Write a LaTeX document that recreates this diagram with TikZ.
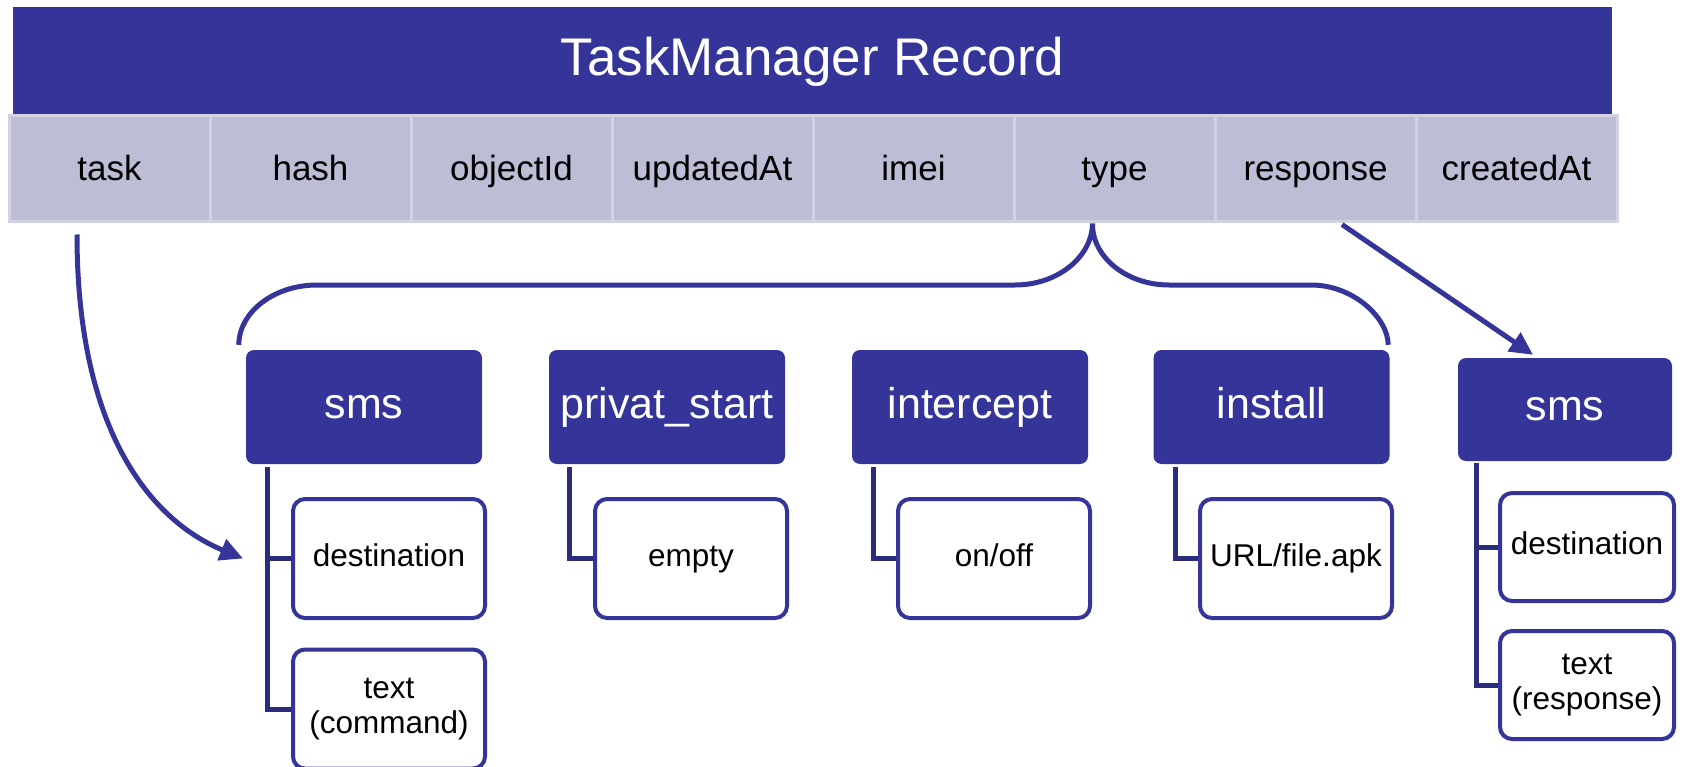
\documentclass[tikz,border=0pt]{standalone}
\usepackage{fontspec}
\setmainfont{Liberation Sans}
\usetikzlibrary{arrows.meta}
\definecolor{dkblue}{RGB}{53,53,153}
\definecolor{treeblue}{RGB}{44,44,125}
\definecolor{cellfill}{RGB}{189,189,214}
\definecolor{cellline}{RGB}{210,210,226}
\tikzset{
  titlebox/.style={fill=dkblue, text=white, inner sep=0pt, minimum width=1599pt, minimum height=109pt, font=\fontsize{53}{60}\selectfont},
  cellbox/.style={fill=cellfill, draw=cellline, line width=3pt, inner sep=0pt, minimum width=201pt, minimum height=106pt, text height=28pt, text depth=4pt, font=\fontsize{35}{40}\selectfont},
  parentbox/.style={fill=dkblue, text=white, rounded corners=8pt, inner sep=0pt, minimum width=236pt, minimum height=114pt, text height=31pt, text depth=9pt, font=\fontsize{43}{50}\selectfont},
  childbox/.style={fill=white, draw=dkblue, line width=4pt, rounded corners=12pt, inner sep=0pt, minimum width=192pt, minimum height=119pt, align=center, font=\fontsize{31.5}{35}\selectfont},
  oneline/.style={text height=22.5pt, text depth=6.6pt},
  treeline/.style={draw=treeblue, line width=5pt},
  bracepath/.style={draw=dkblue, line width=5pt},
  arrowline/.style={draw=dkblue, line width=5pt, -{Triangle[length=23pt,width=22pt]}}
}
\begin{document}
\begin{tikzpicture}[x=1pt,y=-1pt]
\useasboundingbox (0,0) rectangle (1685,767);
\node[titlebox] (title) at (812.5,61.5) {TaskManager Record};
\node[cellbox] (task) at (109.5,169) {task};
\node[cellbox] (hash) at (310.5,169) {hash};
\node[cellbox] (objid) at (511.5,169) {objectId};
\node[cellbox] (upd) at (712.5,169) {updatedAt};
\node[cellbox] (imei) at (913.5,169) {imei};
\node[cellbox] (type) at (1114.5,169) {type};
\node[cellbox] (resp) at (1315.5,169) {response};
\node[cellbox] (crt) at (1516.5,169) {createdAt};
% parents
\node[parentbox] (sms1) at (364,407) {sms};
\node[parentbox] (priv) at (667,407) {privat\_start};
\node[parentbox] (icpt) at (970,407) {intercept};
\node[parentbox] (inst) at (1271.5,407) {install};
\node[parentbox, minimum width=214pt, minimum height=103pt] (sms2) at (1565,409.5) {sms};
% children
\node[childbox, oneline] (dest1) at (389,558.5) {destination};
\node[childbox] (text1) at (389,709) {text\\(command)};
\node[childbox, oneline] (empty) at (691,558.5) {empty};
\node[childbox, oneline] (onoff) at (994,558.5) {on/off};
\node[childbox, oneline] (url) at (1296,558.5) {URL/file.apk};
\node[childbox, oneline, minimum width=174pt, minimum height=108pt] (dest2) at (1587,547) {destination};
\node[childbox, minimum width=174pt, minimum height=108pt] (text2) at (1587,685) {text\\(response)};
% tree lines
\draw[treeline] ([xshift=22pt,yshift=-3pt]sms1.south west) |- (dest1.west);
\draw[treeline] ([xshift=22pt,yshift=-3pt]sms1.south west) |- (text1.west);
\draw[treeline] ([xshift=21pt,yshift=-3pt]priv.south west) |- (empty.west);
\draw[treeline] ([xshift=22pt,yshift=-3pt]icpt.south west) |- (onoff.west);
\draw[treeline] ([xshift=22pt,yshift=-3pt]inst.south west) |- (url.west);
\draw[treeline] ([xshift=19pt,yshift=-2pt]sms2.south west) |- (dest2.west);
\draw[treeline] ([xshift=19pt,yshift=-2pt]sms2.south west) |- (text2.west);
% brace from type
\coordinate (bl) at ([xshift=-7pt,yshift=5pt]sms1.north west);
\coordinate (br) at ([xshift=-1.5pt,yshift=5pt]inst.north east);
\coordinate (apex) at ([xshift=-22pt]type.south);
\draw[bracepath] (bl) .. controls (239,312) and (274,285) .. (317,285) -- (1015,285)
  .. controls (1057.5,285) and (1092,257) .. (apex)
  .. controls (1092,257) and (1126.5,285) .. (1169,285) -- (1311,285)
  .. controls (1353.5,285) and (1388,318) .. (br);
% arrows
\coordinate (taskstart) at ([xshift=-32.5pt,yshift=-11pt]task.south);
\coordinate (tasktip) at ([xshift=-48pt]dest1.west);
\draw[arrowline] (taskstart) .. controls (77,430) and (150,520) .. (tasktip);
\coordinate (respstart) at ([xshift=26.5pt,yshift=-1pt]resp.south);
\coordinate (resptip) at ([xshift=-32pt,yshift=3pt]sms2.north);
\draw[arrowline] (respstart) -- (resptip);
\end{tikzpicture}
\end{document}
